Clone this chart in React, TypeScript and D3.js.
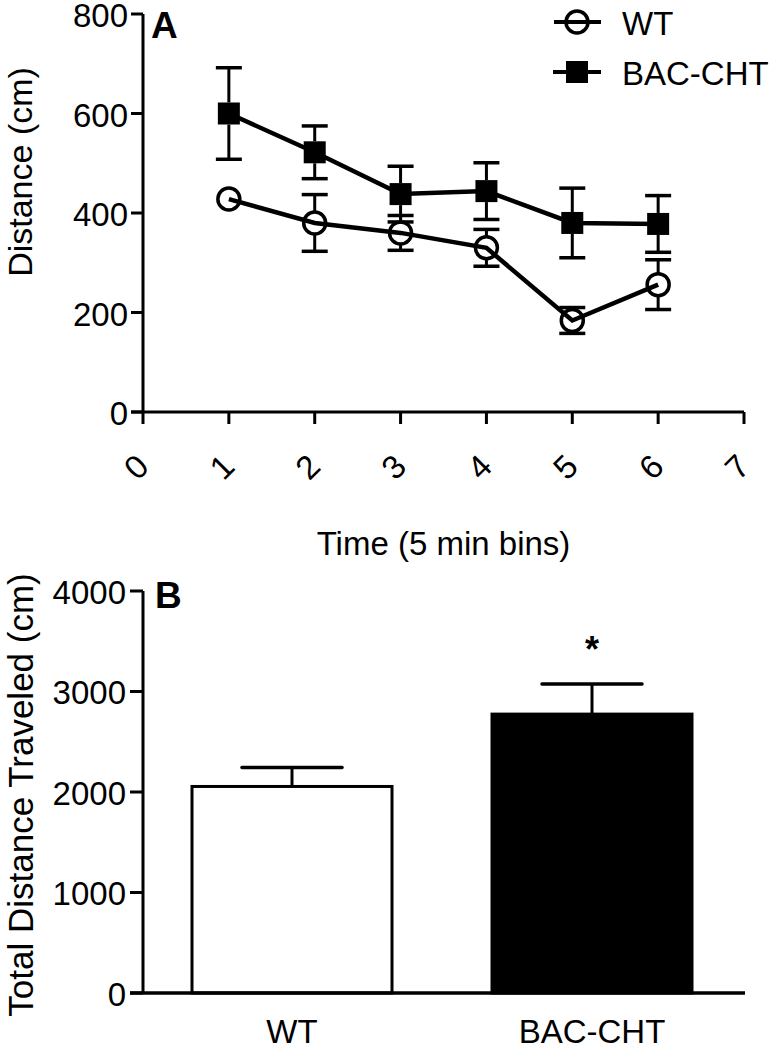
import React from "react";
import * as d3 from "d3";

const times = [1, 2, 3, 4, 5, 6];
const wtMean = [428, 380, 360, 330, 184, 256];
const wtErr = [8, 57, 35, 37, 26, 50];
const bacMean = [600, 522, 438, 444, 380, 378];
const bacErr = [92, 53, 56, 57, 70, 57];
const xTicksA = [0, 1, 2, 3, 4, 5, 6, 7];
const yTicksA = [0, 200, 400, 600, 800];

const groups = ["WT", "BAC-CHT"];
const totals = [2055, 2775];
const totalErr = [188, 300];
const yTicksB = [0, 1000, 2000, 3000, 4000];

const FONT = "'Liberation Sans', Arial, Helvetica, sans-serif";
const FS = 33;

export default function App() {
  const xA = d3.scaleLinear().domain([0, 7]).range([143, 744]);
  const yA = d3.scaleLinear().domain([0, 800]).range([412, 14]);
  const yB = d3.scaleLinear().domain([0, 4000]).range([993, 591]);
  const xB = d3.scaleBand().domain(groups).range([142, 742]).paddingInner(1 / 3).paddingOuter(1 / 6);

  const line = d3.line<number>().x((_, i) => xA(times[i])).y((d) => yA(d));
  const R = 11;
  const S = 22;
  const cap = 13;
  const sw = 3.5;

  const errBars = (means: number[], errs: number[], half: number, key: string) =>
    means.map((m, i) => {
      const x = xA(times[i]);
      const yTop = yA(m + errs[i]);
      const yBot = yA(m - errs[i]);
      const yc = yA(m);
      const out: any[] = [];
      if (yc - yTop > half) {
        out.push(<line key={key + "u" + i} x1={x} x2={x} y1={yc - half} y2={yTop} stroke="#000" strokeWidth={3} />);
        out.push(<line key={key + "uc" + i} x1={x - cap} x2={x + cap} y1={yTop} y2={yTop} stroke="#000" strokeWidth={3.5} />);
      }
      if (yBot - yc > half) {
        out.push(<line key={key + "d" + i} x1={x} x2={x} y1={yc + half} y2={yBot} stroke="#000" strokeWidth={3} />);
        out.push(<line key={key + "dc" + i} x1={x - cap} x2={x + cap} y1={yBot} y2={yBot} stroke="#000" strokeWidth={3.5} />);
      }
      return out;
    });

  return (
    <svg width={769} height={1050} style={{ position: "absolute", left: 0, top: 0, background: "#fff" }} fontFamily={FONT}>
      {/* Panel A */}
      <g>
        <line x1={143} x2={143} y1={yA(800)} y2={yA(0)} stroke="#000" strokeWidth={3} />
        <line x1={131} x2={xA(7)} y1={yA(0)} y2={yA(0)} stroke="#000" strokeWidth={3} />
        {yTicksA.map((t) => (
          <g key={"ya" + t}>
            <line x1={131} x2={143} y1={yA(t)} y2={yA(t)} stroke="#000" strokeWidth={3} />
            <text x={128} y={yA(t) + 1.5} textAnchor="end" dominantBaseline="central" fontSize={FS}>{t}</text>
          </g>
        ))}
        {xTicksA.map((t) => (
          <g key={"xa" + t}>
            <line x1={xA(t)} x2={xA(t)} y1={yA(0)} y2={yA(0) + 12} stroke="#000" strokeWidth={3} />
            <text transform={`translate(${xA(t) - 7},${yA(0) + 55}) rotate(-45)`} textAnchor="middle" dominantBaseline="central" fontSize={FS}>{t}</text>
          </g>
        ))}
        <text x={xA(3.5)} y={555} textAnchor="middle" fontSize={FS}>Time (5 min bins)</text>
        <text transform={`translate(20,172) rotate(-90)`} textAnchor="middle" dominantBaseline="central" fontSize={34}>Distance (cm)</text>
        <text x={151} y={38} fontSize={37} fontWeight="bold">A</text>

        <path d={line(bacMean) || ""} fill="none" stroke="#000" strokeWidth={4.5} />
        <path d={line(wtMean) || ""} fill="none" stroke="#000" strokeWidth={4.5} />
        {errBars(bacMean, bacErr, S / 2, "b")}
        {errBars(wtMean, wtErr, R, "w")}
        {bacMean.map((m, i) => (
          <rect key={"bs" + i} x={xA(times[i]) - S / 2} y={yA(m) - S / 2} width={S} height={S} fill="#000" />
        ))}
        {wtMean.map((m, i) => (
          <circle key={"wc" + i} cx={xA(times[i])} cy={yA(m)} r={R} fill="none" stroke="#000" strokeWidth={sw} />
        ))}

        <line x1={554} x2={601} y1={22} y2={22} stroke="#000" strokeWidth={4} />
        <circle cx={577} cy={22} r={R} fill="none" stroke="#000" strokeWidth={sw} />
        <text x={622} y={23} dominantBaseline="central" fontSize={FS}>WT</text>
        <line x1={553} x2={601} y1={72} y2={72} stroke="#000" strokeWidth={4} />
        <rect x={577 - S / 2} y={72 - S / 2} width={S} height={S} fill="#000" />
        <text x={622} y={73} dominantBaseline="central" fontSize={FS}>BAC-CHT</text>
      </g>

      {/* Panel B */}
      <g>
        {groups.map((g, i) => {
          const x0 = xB(g)!;
          const cx = x0 + xB.bandwidth() / 2;
          return (
            <g key={"bar" + g}>
              <line x1={cx} x2={cx} y1={yB(totals[i])} y2={yB(totals[i] + totalErr[i])} stroke="#000" strokeWidth={3} />
              <line x1={cx - 50} x2={cx + 50} y1={yB(totals[i] + totalErr[i])} y2={yB(totals[i] + totalErr[i])} stroke="#000" strokeWidth={3.5} strokeLinecap="round" />
              <rect x={x0} y={yB(totals[i])} width={xB.bandwidth()} height={yB(0) - yB(totals[i])} fill={i === 0 ? "#fff" : "#000"} stroke="#000" strokeWidth={3} />
              <text x={cx} y={1043} textAnchor="middle" fontSize={FS}>{g}</text>
            </g>
          );
        })}
        <text x={xB("BAC-CHT")! + xB.bandwidth() / 2} y={yB(totals[1] + totalErr[1]) - 22} textAnchor="middle" fontSize={36} fontWeight="bold">*</text>
        <line x1={143} x2={143} y1={yB(4000)} y2={yB(0)} stroke="#000" strokeWidth={3} />
        <line x1={130} x2={745} y1={yB(0)} y2={yB(0)} stroke="#000" strokeWidth={3.5} />
        {yTicksB.map((t) => (
          <g key={"yb" + t}>
            <line x1={130} x2={143} y1={yB(t)} y2={yB(t)} stroke="#000" strokeWidth={3} />
            <text x={126} y={yB(t) + 1} textAnchor="end" dominantBaseline="central" fontSize={FS}>{t}</text>
          </g>
        ))}
        <text transform={`translate(20,795) rotate(-90)`} textAnchor="middle" dominantBaseline="central" fontSize={35}>Total Distance Traveled (cm)</text>
        <text x={155} y={608} fontSize={37} fontWeight="bold">B</text>
      </g>
    </svg>
  );
}
